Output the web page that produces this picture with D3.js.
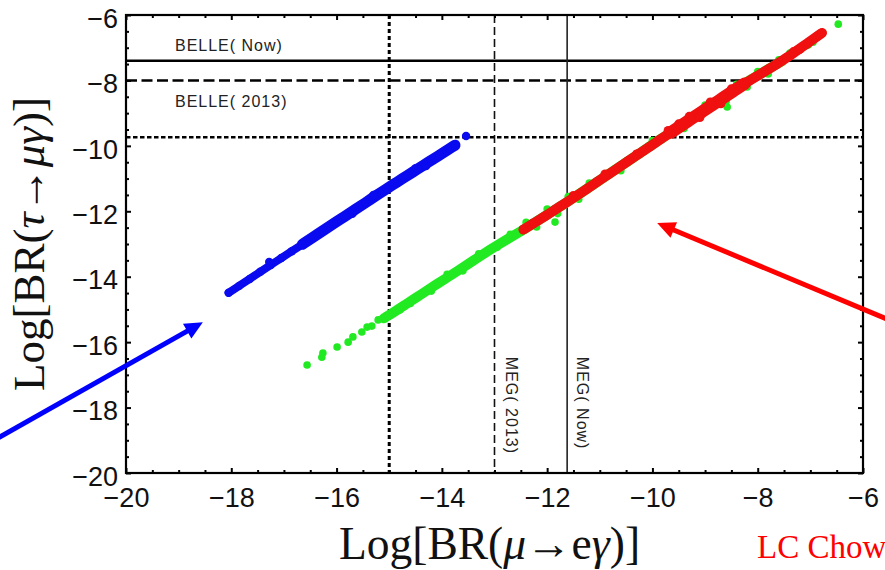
<!DOCTYPE html>
<html><head><meta charset="utf-8">
<script src="https://cdn.jsdelivr.net/npm/d3@7"></script>
<style>body{margin:0;background:#fff}</style>
</head><body><svg id="c" width="885" height="570"></svg>
<script>
// ---------- DATA ----------
const xTicks = [-20, -18, -16, -14, -12, -10, -8, -6];
const yTicks = [-20, -18, -16, -14, -12, -10, -8, -6];
const belleValues = [-7.4, -8.0, -9.74];      // solid (Now), dashed (2013), dotted
const belleLabels = ["BELLE( Now)", "BELLE( 2013)"];
const megValues = [-15, -13, -11.62];         // dotted, dashed (2013), solid (Now)
const megLabels = ["MEG( 2013)", "MEG( Now)"];

// dense bands (centre of each point cloud)
const blueBand = [
 [-18.05,-14.49],[-17.85,-14.28],[-17.65,-14.07],[-17.45,-13.85],[-17.25,-13.64],[-17.05,-13.43],
 [-16.85,-13.22],[-16.65,-13.01],[-16.45,-12.80],[-16.25,-12.58],[-16.05,-12.37],[-15.85,-12.16],
 [-15.65,-11.95],[-15.45,-11.74],[-15.25,-11.52],[-15.05,-11.31],[-14.85,-11.11],[-14.65,-10.90],
 [-14.45,-10.70],[-14.25,-10.49],[-14.05,-10.29],[-13.85,-10.08],[-13.75,-9.98]
];
const blueScatter = [[-17.28,-13.55],[-13.54,-9.70],[-15.3,-11.50],[-14.9,-11.13],[-14.5,-10.68],[-14.3,-10.62],[-15.7,-12.08]];

const greenBand = [
 [-15.10,-15.27],[-14.9,-15.07],[-14.7,-14.86],[-14.5,-14.65],[-14.3,-14.44],[-14.1,-14.23],
 [-13.9,-14.03],[-13.7,-13.82],[-13.5,-13.61],[-13.3,-13.40],[-13.1,-13.19],[-12.9,-12.99],
 [-12.7,-12.80],[-12.5,-12.61],[-12.3,-12.41],[-12.1,-12.21],[-11.9,-12.00],[-11.7,-11.80],
 [-11.5,-11.59],[-11.3,-11.37],[-11.1,-11.16],[-10.9,-10.94],[-10.7,-10.72],[-10.5,-10.51],
 [-10.3,-10.29],[-10.1,-10.07],[-9.9,-9.85],[-9.7,-9.64],[-9.5,-9.43],[-9.3,-9.22],
 [-9.1,-9.00],[-8.9,-8.79],[-8.7,-8.58],[-8.5,-8.36],[-8.3,-8.15],[-8.1,-7.94],
 [-7.9,-7.75],[-7.7,-7.56],[-7.54,-7.41]
];
const greenScatter = [
 [-16.56,-16.70],[-16.28,-16.46],[-16.26,-16.33],[-15.99,-16.15],[-15.78,-16.00],[-15.69,-15.84],
 [-15.52,-15.69],[-15.42,-15.54],[-15.33,-15.51],[-15.21,-15.32],
 [-14.8,-15.02],[-14.6,-14.82],[-14.2,-14.44],[-13.9,-13.93],[-13.6,-13.82],[-13.3,-13.30],
 [-12.95,-13.10],[-12.7,-12.70],
 [-12.4,-12.34],[-12.2,-12.48],[-12.0,-11.93],[-11.8,-12.07],[-11.6,-11.55],[-11.4,-11.63],
 [-11.2,-11.14],[-10.6,-10.76],[-10.0,-9.84],[-9.4,-9.47],[-9.0,-8.75],[-8.6,-8.64],
 [-8.4,-8.12],[-8.2,-8.20],[-8.0,-7.73],[-7.8,-7.80],[-7.6,-7.37],
 [-7.39,-7.16],[-7.20,-7.07],[-7.04,-6.92],[-6.95,-6.83],[-6.47,-6.28],
 [-11.85,-12.33],[-8.58,-8.81]
];

const redBand = [
 [-12.45,-12.56],[-12.25,-12.36],[-12.05,-12.16],[-11.85,-11.95],[-11.65,-11.75],[-11.45,-11.54],
 [-11.25,-11.32],[-11.05,-11.10],[-10.85,-10.89],[-10.65,-10.67],[-10.45,-10.45],[-10.25,-10.24],
 [-10.05,-10.02],[-9.85,-9.80],[-9.65,-9.59],[-9.45,-9.38],[-9.25,-9.16],[-9.05,-8.95],
 [-8.85,-8.74],[-8.65,-8.52],[-8.45,-8.31],[-8.25,-8.10],[-8.05,-7.90],[-7.85,-7.71],
 [-7.65,-7.52],[-7.45,-7.31],[-7.25,-7.08],[-7.05,-6.86],[-6.85,-6.63],[-6.78,-6.55]
];
const redScatter = [
 [-9.5,-9.33],[-9.3,-9.10],[-9.1,-9.13],[-8.9,-8.66],[-8.7,-8.71],[-8.5,-8.26],[-9.7,-9.53],
 [-10.9,-10.86],[-10.3,-10.25],[-11.5,-11.52],[-7.32,-7.12],[-7.2,-7.05]
];

// ---------- LAYOUT ----------
const svg = d3.select("#c");
const m = {l:126, r:863, t:15, b:473};
const x = d3.scaleLinear().domain([-20, -6]).range([m.l, m.r]);
const y = d3.scaleLinear().domain([-20, -6]).range([m.b, m.t]);
const minor = d3.range(-20, -5.99, 0.5).filter(v => v % 2 !== 0);
const fmt = d => "\u2212" + Math.abs(d);
const sans = "'Liberation Sans', Arial, Helvetica, sans-serif";
const serif = "'Liberation Serif', 'Times New Roman', serif";

// limit lines
const gl = svg.append("g");
function hLine(v, w, dash) {
  const l = gl.append("line").attr("x1", m.l).attr("x2", m.r).attr("y1", y(v)).attr("y2", y(v))
    .attr("stroke", "#000").attr("stroke-width", w);
  if (dash) l.attr("stroke-dasharray", dash);
}
function vLine(v, w, dash, col) {
  const l = gl.append("line").attr("y1", m.t).attr("y2", m.b).attr("x1", x(v)).attr("x2", x(v))
    .attr("stroke", col).attr("stroke-width", w);
  if (dash) l.attr("stroke-dasharray", dash);
}
hLine(belleValues[0], 2.5, null);
hLine(belleValues[1], 2.5, "11,4.5");
hLine(belleValues[2], 2.5, "4.5,2.5");
vLine(megValues[0], 3, "4,3", "#000");
vLine(megValues[1], 1.6, "8,4", "#111");
vLine(megValues[2], 1.6, null, "#222");

// limit labels
const lab = svg.append("g").style("font-family", sans).style("font-size", "16px")
  .style("letter-spacing", "1px").attr("fill", "#222");
lab.append("text").attr("x", x(-19.07)).attr("y", y(-7.1)).text(belleLabels[0]);
lab.append("text").attr("x", x(-19.07)).attr("y", y(-8.81)).text(belleLabels[1]);
lab.append("text").attr("transform", `translate(${x(megValues[1]) + 11},${y(-16.45)}) rotate(90)`).text(megLabels[0]);
lab.append("text").attr("transform", `translate(${x(megValues[2]) + 10},${y(-16.45)}) rotate(90)`).text(megLabels[1]);

// scatter bands
const gs = svg.append("g");
const line = d3.line().x(d => x(d[0])).y(d => y(d[1])).curve(d3.curveBasis);
function path(data, col, w) {
  gs.append("path").datum(data).attr("d", line).attr("fill", "none").attr("stroke", col)
    .attr("stroke-width", w).attr("stroke-linecap", "round").attr("stroke-linejoin", "round");
}
function dots(data, col, r) {
  gs.append("g").selectAll("circle").data(data).join("circle")
    .attr("cx", d => x(d[0])).attr("cy", d => y(d[1])).attr("r", r).attr("fill", col);
}
const G = "#22ea22", B = "#0a0af0", R = "#f01010";
path(greenBand, G, 10); dots(greenBand.concat(greenScatter), G, 3.8);
path(blueBand, B, 8); path(blueBand.filter(d => d[0] > -16.7), B, 11);
dots(blueBand.concat(blueScatter), B, 4.2);
path(redBand, R, 10); path(redBand.filter(d => d[0] > -9.8 && d[0] < -8.1), R, 12.5);
dots(redBand.concat(redScatter), R, 4.6);

// axes ticks
function styleAxis(g) { g.select(".domain").remove(); g.selectAll("line").attr("stroke", "#000").attr("stroke-width", 2); }
svg.append("g").attr("transform", `translate(0,${m.b})`).call(d3.axisBottom(x).tickValues(minor).tickSize(-3).tickFormat("")).call(styleAxis);
svg.append("g").attr("transform", `translate(0,${m.t})`).call(d3.axisTop(x).tickValues(minor).tickSize(-3).tickFormat("")).call(styleAxis);
svg.append("g").attr("transform", `translate(${m.l},0)`).call(d3.axisLeft(y).tickValues(minor).tickSize(-3).tickFormat("")).call(styleAxis);
svg.append("g").attr("transform", `translate(${m.r},0)`).call(d3.axisRight(y).tickValues(minor).tickSize(-3).tickFormat("")).call(styleAxis);

const xb = svg.append("g").attr("transform", `translate(0,${m.b})`)
  .call(d3.axisBottom(x).tickValues(xTicks).tickSize(-5).tickPadding(15).tickFormat(fmt)).call(styleAxis);
svg.append("g").attr("transform", `translate(0,${m.t})`)
  .call(d3.axisTop(x).tickValues(xTicks).tickSize(-5).tickFormat("")).call(styleAxis);
const yl = svg.append("g").attr("transform", `translate(${m.l},0)`)
  .call(d3.axisLeft(y).tickValues(yTicks).tickSize(-5).tickPadding(8).tickFormat(fmt)).call(styleAxis);
svg.append("g").attr("transform", `translate(${m.r},0)`)
  .call(d3.axisRight(y).tickValues(yTicks).tickSize(-5).tickFormat("")).call(styleAxis);
[xb, yl].forEach(g => g.selectAll("text").style("font-family", sans).style("font-size", "27px").attr("fill", "#111"));
yl.selectAll("text").attr("dy", "0.45em");

// frame
svg.append("rect").attr("x", m.l).attr("y", m.t).attr("width", m.r - m.l).attr("height", m.b - m.t)
  .attr("fill", "none").attr("stroke", "#000").attr("stroke-width", 2.2);

// axis titles
function title(sel, parts) {
  parts.forEach(p => sel.append("tspan").text(p[0]).style("font-style", p[1] ? "italic" : "normal"));
}
const yt = svg.append("text").attr("transform", `translate(44,${(m.t + m.b) / 2}) rotate(-90)`)
  .attr("text-anchor", "middle").style("font-family", serif).style("font-size", "45px").attr("fill", "#111");
title(yt, [["Log[BR(", 0], ["\u03c4", 1], ["\u2192", 0], ["\u03bc\u03b3", 1], [")]", 0]]);
const xt = svg.append("text").attr("x", (m.l + m.r) / 2 - 5).attr("y", 559)
  .attr("text-anchor", "middle").style("font-family", serif).style("font-size", "45.5px").attr("fill", "#111");
title(xt, [["Log[BR(", 0], ["\u03bc", 1], ["\u2192", 0], ["e", 0], ["\u03b3", 1], [")]", 0]]);

svg.append("text").attr("x", 757).attr("y", 558).style("font-family", serif).style("font-size", "33px")
  .attr("fill", "#f00").text("LC Chow");

// arrows (data-space endpoints)
function arrow(x0, y0, x1, y1, color) {
  const px0 = x(x0), py0 = y(y0), px1 = x(x1), py1 = y(y1);
  const a = Math.atan2(py1 - py0, px1 - px0), L = 18, W = 8.5;
  const bx = px1 - L * Math.cos(a), by = py1 - L * Math.sin(a);
  svg.append("line").attr("x1", px0).attr("y1", py0).attr("x2", bx + 2 * Math.cos(a)).attr("y2", by + 2 * Math.sin(a))
    .attr("stroke", color).attr("stroke-width", 5);
  svg.append("polygon").attr("fill", color).attr("points", [
    [px1, py1],
    [bx + W * Math.sin(a), by - W * Math.cos(a)],
    [bx - W * Math.sin(a), by + W * Math.cos(a)]
  ].map(p => p.join(",")).join(" "));
}
arrow(-22.45, -18.95, -18.54, -15.39, "#0000ff");
arrow(-5.30, -15.46, -9.91, -12.36, "#ff0000");
</script></body></html>
